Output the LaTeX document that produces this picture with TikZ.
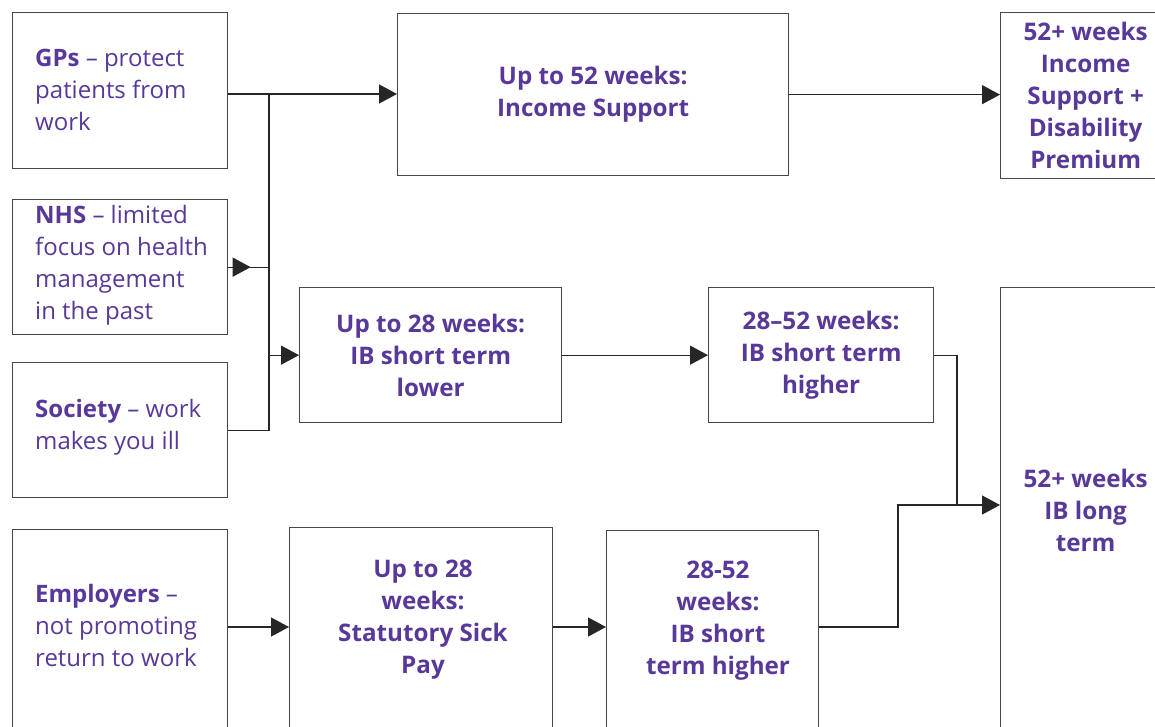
\documentclass[tikz,border=0pt]{standalone}
\usepackage{fontspec}
\setmainfont{Open Sans}
\usetikzlibrary{arrows.meta,decorations.markings,positioning}
\definecolor{txtpurple}{RGB}{88,56,152}
\colorlet{box edge}{black!72}
\colorlet{link edge}{black!85}
\tikzset{box/.style={draw=box edge, line width=1.3pt, inner sep=0pt, anchor=north west,
        text=txtpurple, font=\fontsize{24.2}{32}\selectfont\bfseries, align=center},
    lefttext/.style={text=txtpurple, font=\fontsize{24}{32}\selectfont, align=left,
        anchor=west, inner sep=0pt},
    midtext/.style={text=txtpurple, font=\fontsize{24.2}{32}\selectfont\bfseries, align=center,
        inner sep=0pt},
    link/.style={draw=link edge, line width=1.3pt},
    linkarrow/.style={link, -{Triangle[length=18pt,width=19pt]}},
    midarrow/.style={link, postaction={decorate}, decoration={markings,
        mark=at position 0.55 with {\arrow{Triangle[length=18pt,width=19pt]}}}}}

\begin{document}
\begin{tikzpicture}[x=1pt, y=-1pt]
    \useasboundingbox (0,0) rectangle (1155,727);
    \clip (0,0) rectangle (1155,727);
    % causes
    \node[box, minimum width=215, minimum height=156] (gps) at (12,12) {};
    \node[box, minimum width=215, minimum height=135] (nhs) at (12,199) {};
    \node[box, minimum width=215, minimum height=135] (soc) at (12,362) {};
    \node[box, minimum width=215, minimum height=230] (emp) at (12,529) {};
    \node[lefttext] (gpst) at (35,90) {\textbf{GPs} – protect\\patients from\\work};
    \node[lefttext] (nhst) at (35,265) {\textbf{NHS} – limited\\focus on health\\management\\in the past};
    \node[lefttext] (soct) at (35,427) {\textbf{Society} – work\\makes you ill};
    \node[lefttext] (empt) at (35,625) {\textbf{Employers} –\\not promoting\\return to work};
    % benefits
    \node[box, minimum width=391, minimum height=162] (insup) at (397,13) {Up to 52 weeks:\\Income Support};
    \node[box, minimum width=170, minimum height=166] (isdp) at (1000,12) {52+ weeks\\Income\\Support +\\Disability\\Premium};
    \node[box, minimum width=262, minimum height=135] (ibl) at (299,287) {Up to 28 weeks:\\IB short term\\lower};
    \node[box, minimum width=225, minimum height=135] (ibh) at (708,287) {28–52 weeks:\\IB short term\\higher};
    \node[box, minimum width=170, minimum height=445] (iblt) at (1000,287) {52+ weeks\\IB long\\term};
    \node[box, minimum width=263, minimum height=230] (ssp) at (289,527) {};
    \node[box, minimum width=212, minimum height=230] (ibsth) at (606,530) {};
    \node[midtext] (sspt) at (423,620) {Up to 28\\weeks:\\Statutory Sick\\Pay};
    \node[midtext] (ibstht) at (718,621) {28-52\\weeks:\\IB short\\term higher};
    % connectors
    \coordinate (bus) at (269,94);
    \coordinate (merge) at (957,505);
    \coordinate (riser) at (898,0);
    \coordinate (lowrow) at (0,627);
    \draw[linkarrow] (gps.east |- bus) -- (insup.west |- bus);
    \draw[link] (bus) |- (soc.east);
    \draw[midarrow] (nhs.east) -- (nhs.east -| bus);
    \draw[linkarrow] (ibl.west -| bus) -- (ibl.west);
    \draw[linkarrow] (ibl) -- (ibh);
    \draw[linkarrow] (insup.east) -- (insup.east -| isdp.west);
    \draw[link] (ibh.east) -| (merge);
    \draw[linkarrow] (emp.east |- lowrow) -- (ssp.west |- lowrow);
    \draw[linkarrow] (ssp.east |- lowrow) -- (ibsth.west |- lowrow);
    \draw[linkarrow] (ibsth.east |- lowrow) -| (riser |- merge) -- (iblt.west |- merge);
\end{tikzpicture}
\end{document}
